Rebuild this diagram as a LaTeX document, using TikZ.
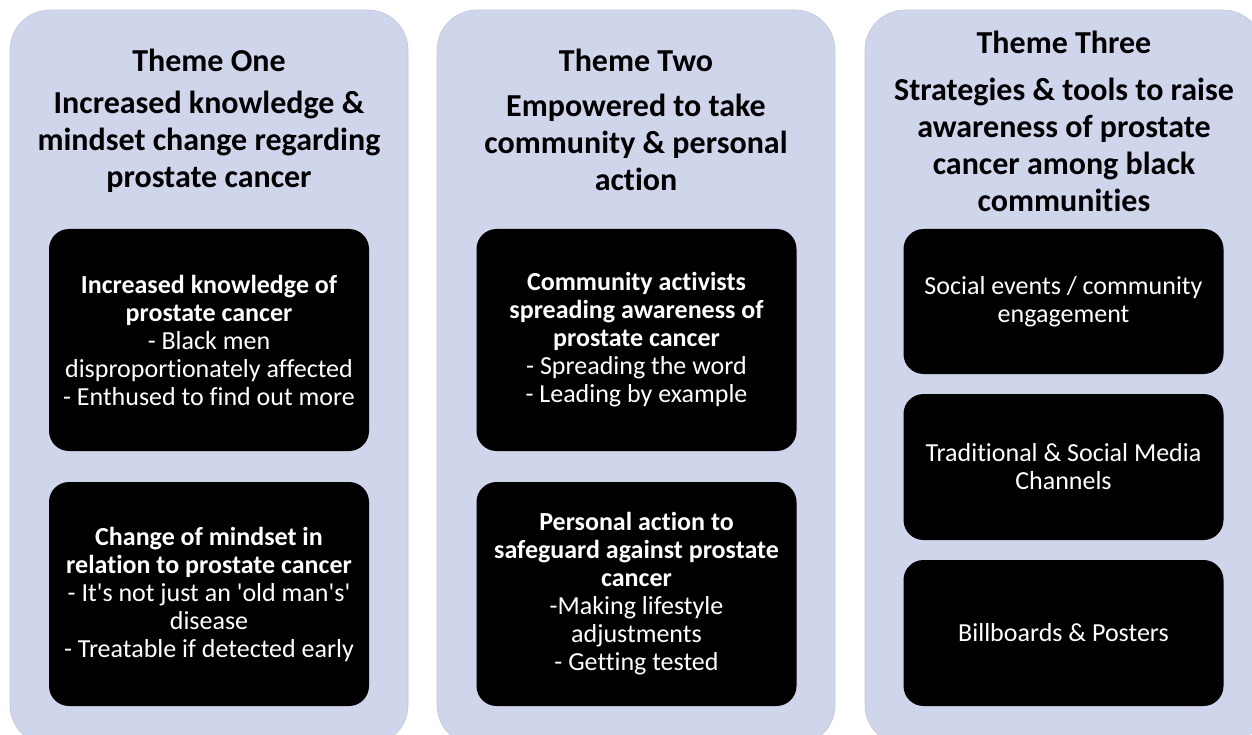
\documentclass[tikz,border=0pt]{standalone}
\usepackage{fontspec}
\setmainfont{Carlito}[Ligatures={NoCommon}]
\definecolor{panelblue}{HTML}{CFD5EA}
\tikzset{
  panel/.style={fill=panelblue, draw=panelblue!85!gray, line width=0.6pt, rounded corners=40pt,
    minimum width=398pt, minimum height=735pt, inner sep=0pt},
  heading/.style={align=center, font=\bfseries\fontsize{32}{37}\selectfont},
  darkbox/.style={fill=black, rounded corners=20pt, text=white, align=center, inner sep=0pt,
    minimum width=320pt, font=\fontsize{26}{28}\selectfont},
}
\begin{document}
\begin{tikzpicture}[x=1pt,y=-1pt]
\useasboundingbox (0,0) rectangle (1252,735);
\clip (0,0) rectangle (1252,735);
% three theme panels
\node[panel] (panelA) at (209,377.5) {};
\node[panel] (panelB) at (636,377.5) {};
\node[panel] (panelC) at (1064,377.5) {};
% theme one
\node[heading] (titleA) at (209,60) {Theme One};
\node[heading] (subA) at (209,142) {Increased knowledge \&\\mindset change regarding\\prostate cancer};
\node[darkbox, minimum height=222pt] (boxA1) at (209,340) {\textbf{Increased knowledge of}\\\textbf{prostate cancer}\\- Black men\\disproportionately affected\\- Enthused to find out more};
\node[darkbox, minimum height=224pt] (boxA2) at (209,594) {\textbf{Change of mindset in}\\\textbf{relation to prostate cancer}\\- It\textquotesingle s not just an \textquotesingle old man\textquotesingle s\textquotesingle\\disease\\- Treatable if detected early};
% theme two
\node[heading] (titleB) at (636,60) {Theme Two};
\node[heading] (subB) at (636,142) {Empowered to take\\community \& personal\\action};
\node[darkbox, minimum height=222pt] (boxB1) at (636.5,340) {\textbf{Community activists}\\\textbf{spreading awareness of}\\\textbf{prostate cancer}\\- Spreading the word\\- Leading by example};
\node[darkbox, minimum height=224pt] (boxB2) at (636.5,594) {\textbf{Personal action to}\\\textbf{safeguard against prostate}\\\textbf{cancer}\\-Making lifestyle\\adjustments\\- Getting tested};
% theme three
\node[heading] (titleC) at (1064,42) {Theme Three};
\node[heading] (subC) at (1064,145) {Strategies \& tools to raise\\awareness of prostate\\cancer among black\\communities};
\node[darkbox, minimum height=145pt] (boxC1) at (1063.5,301.5) {Social events / community\\engagement};
\node[darkbox, minimum height=146pt] (boxC2) at (1063.5,467) {Traditional \& Social Media\\Channels};
\node[darkbox, minimum height=146pt] (boxC3) at (1063.5,633) {Billboards \& Posters};
\end{tikzpicture}
\end{document}
